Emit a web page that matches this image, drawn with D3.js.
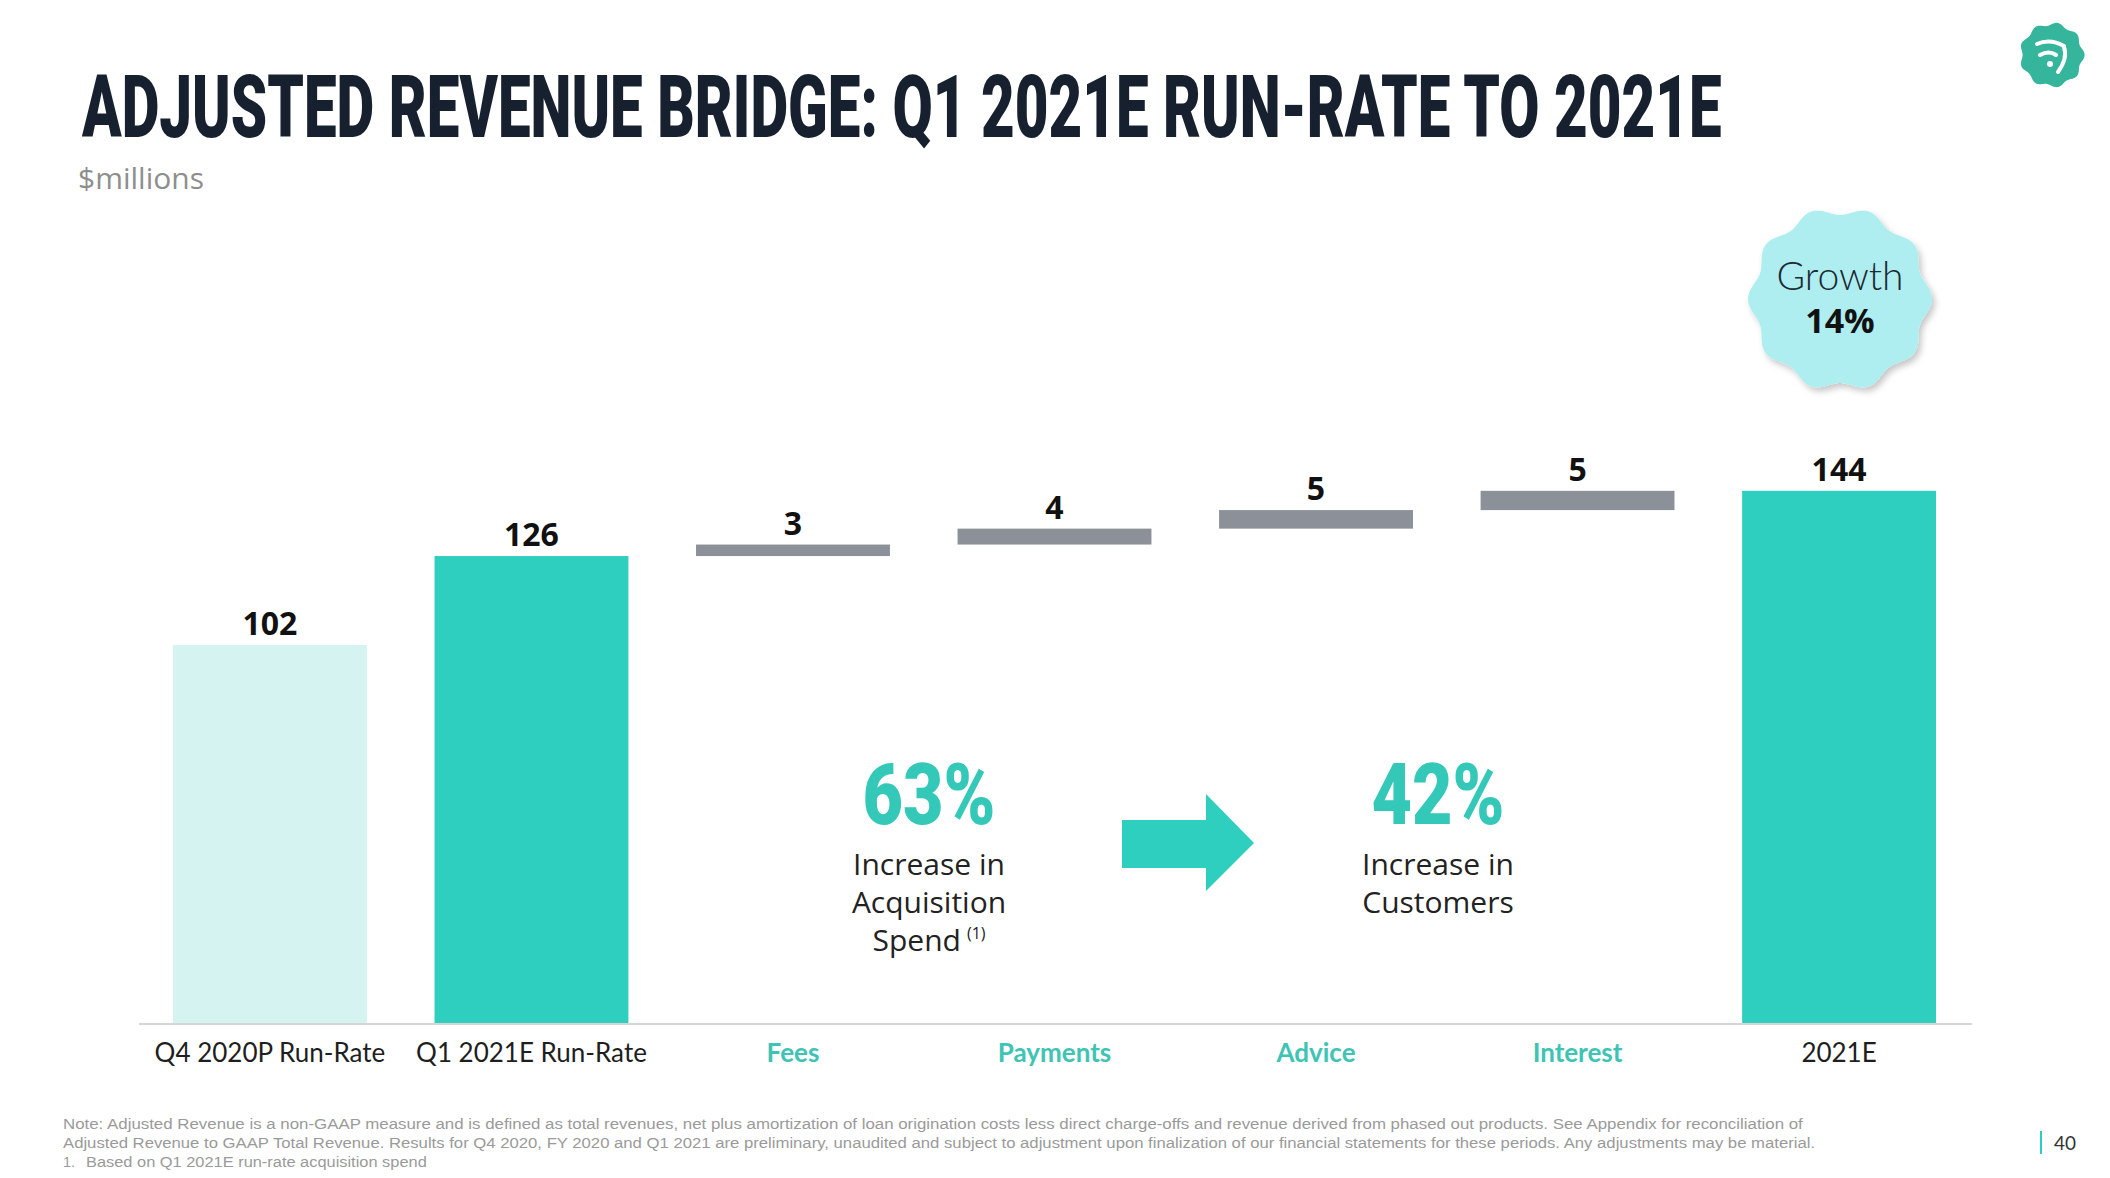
<!DOCTYPE html>
<html>
<head>
<meta charset="utf-8">
<script src="https://cdn.jsdelivr.net/npm/d3@7/dist/d3.min.js"></script>
<style>
  html, body { margin: 0; padding: 0; background: #ffffff; }
  svg { display: block; }
</style>
</head>
<body>
<svg id="chart" width="2110" height="1178"></svg>
<script>
// ---------------- data ----------------
const categories = ["Q4 2020P Run-Rate", "Q1 2021E Run-Rate", "Fees", "Payments", "Advice", "Interest", "2021E"];
const barTypes   = ["start", "total", "delta", "delta", "delta", "delta", "total"];
const values     = [102, 126, 3.1, 4.3, 5.0, 5.2, 143.6];
const valueLabels = ["102", "126", "3", "4", "5", "5", "144"];
const yDomain    = [0, 144];

const titleText = "ADJUSTED REVENUE BRIDGE: Q1 2021E RUN-RATE TO 2021E";
const subtitleText = "$millions";
const growthLabel = "Growth";
const growthValue = "14%";
const calloutPcts = ["63%", "42%"];
const calloutLines = [["Increase in", "Acquisition", "Spend"], ["Increase in", "Customers"]];
const footnotes = [
  "Note: Adjusted Revenue is a non-GAAP measure and is defined as total revenues, net plus amortization of loan origination costs less direct charge-offs and revenue derived from phased out products. See Appendix for reconciliation of",
  "Adjusted Revenue to GAAP Total Revenue. Results for Q4 2020, FY 2020 and Q1 2021 are preliminary, unaudited and subject to adjustment upon finalization of our financial statements for these periods. Any adjustments may be material.",
  "Based on Q1 2021E run-rate acquisition spend"
];
const pageNumber = "40";

// ---------------- setup ----------------
const svg = d3.select("#chart");
const TEAL = "#2fcfbf", LIGHT = "#d4f3f1", GREY = "#8b9099";

const defs = svg.append("defs");
const f = defs.append("filter").attr("id", "shadow").attr("x", "-20%").attr("y", "-20%").attr("width", "150%").attr("height", "150%");
f.append("feDropShadow").attr("dx", 3).attr("dy", 4).attr("stdDeviation", 3).attr("flood-color", "#000").attr("flood-opacity", 0.22);

function fitX(sel, target) {
  const w = sel.node().getComputedTextLength();
  return target / w;
}

// ---------------- title ----------------
const title = svg.append("text")
  .attr("font-family", "Roboto, 'Liberation Sans', sans-serif")
  .attr("font-weight", 900)
  .attr("font-size", 88)
  .attr("fill", "#17202e")
  .text(titleText);
{
  const s = fitX(title, 1640);
  title.attr("transform", `translate(82,137) scale(${s},1)`);
}

svg.append("text")
  .attr("x", 78).attr("y", 189)
  .attr("font-family", "'Open Sans', Lato, sans-serif")
  .attr("font-size", 30)
  .attr("fill", "#8e8e8e")
  .text(subtitleText);

// ---------------- scales ----------------
const x = d3.scaleBand().domain(categories).range([173, 1936]).paddingInner(0.2586).paddingOuter(0);
const y = d3.scaleLinear().domain(yDomain).range([1023, 1023 - 144 * 3.706]);

// waterfall computation
let running = 0;
const bars = categories.map((c, i) => {
  let lo, hi;
  if (barTypes[i] === "delta") { lo = running; hi = running + values[i]; running = hi; }
  else { lo = 0; hi = values[i]; running = values[i]; }
  return { cat: c, lo, hi, type: barTypes[i], label: valueLabels[i], i };
});

const g = svg.append("g");
g.selectAll("rect.bar").data(bars).join("rect")
  .attr("class", "bar")
  .attr("x", d => x(d.cat))
  .attr("width", x.bandwidth())
  .attr("y", d => y(d.hi))
  .attr("height", d => y(d.lo) - y(d.hi))
  .attr("fill", d => d.type === "start" ? LIGHT : d.type === "total" ? TEAL : GREY);

g.selectAll("text.val").data(bars).join("text")
  .attr("class", "val")
  .attr("x", d => x(d.cat) + x.bandwidth() / 2)
  .attr("y", d => y(d.hi) - 10)
  .attr("text-anchor", "middle")
  .attr("font-family", "'Open Sans', 'Noto Sans', sans-serif")
  .attr("font-weight", 700)
  .attr("font-size", 32)
  .attr("fill", "#111")
  .text(d => d.label);

// axis
const axis = d3.axisBottom(x).tickSize(0).tickPadding(0);
const ax = svg.append("g").attr("transform", `translate(0,${1023})`).call(axis);
ax.select(".domain").remove();
svg.append("line").attr("x1", 139).attr("x2", 1972).attr("y1", 1024).attr("y2", 1024)
  .attr("stroke", "#d6d6d6").attr("stroke-width", 2);
ax.selectAll(".tick text")
  .attr("y", 39)
  .attr("dy", 0)
  .attr("font-family", "Lato, 'Open Sans', sans-serif")
  .attr("font-size", 26)
  .attr("font-weight", (d, i) => barTypes[i] === "delta" ? 700 : 400)
  .attr("fill", (d, i) => barTypes[i] === "delta" ? "#3ec4b4" : "#1e1e1e");

// ---------------- callouts ----------------
const calloutCx = [929, 1438];
calloutPcts.forEach((p, k) => {
  const t = svg.append("text")
    .attr("text-anchor", "middle")
    .attr("font-family", "Roboto, 'Liberation Sans', sans-serif")
    .attr("font-weight", 900)
    .attr("font-size", 86)
    .attr("fill", "#33c8b7")
    .text(p);
  const s = fitX(t, 133);
  t.attr("transform", `translate(${calloutCx[k]},824) scale(${s},1)`);

  calloutLines[k].forEach((line, j) => {
    const tt = svg.append("text")
      .attr("x", calloutCx[k]).attr("y", 875 + j * 38)
      .attr("text-anchor", "middle")
      .attr("font-family", "'Open Sans', Lato, sans-serif")
      .attr("font-size", 30)
      .attr("fill", "#222");
    tt.append("tspan").text(line);
    if (k === 0 && j === 2) {
      tt.append("tspan").attr("font-size", 16).attr("dy", -12).attr("dx", 6).text("(1)");
    }
  });
});

// arrow
const arrowPts = [[1122, 820], [1206, 820], [1206, 794], [1254, 843], [1206, 891], [1206, 868], [1122, 868]];
svg.append("path").attr("d", d3.line()(arrowPts) + "Z").attr("fill", TEAL);

// ---------------- growth badge ----------------
function wavyCircle(cx, cy, R, amp, n) {
  const pts = d3.range(0, 360, 2).map(a => {
    const t = a * Math.PI / 180;
    const r = R + amp * Math.cos(n * t);
    return [cx + r * Math.cos(t), cy + r * Math.sin(t)];
  });
  return d3.line().curve(d3.curveCardinalClosed)(pts);
}
svg.append("path").attr("d", wavyCircle(1840, 299, 88, 4, 10))
  .attr("fill", "#aeeef0").attr("filter", "url(#shadow)");
svg.append("text").attr("x", 1840).attr("y", 290).attr("text-anchor", "middle")
  .attr("font-family", "Lato, 'Open Sans', sans-serif").attr("font-weight", 300)
  .attr("font-size", 39).attr("fill", "#1b2a33").text(growthLabel);
svg.append("text").attr("x", 1840).attr("y", 333).attr("text-anchor", "middle")
  .attr("font-family", "'Open Sans', 'Noto Sans', sans-serif").attr("font-weight", 700)
  .attr("font-size", 34).attr("fill", "#111").text(growthValue);

// ---------------- logo ----------------
svg.append("path").attr("d", wavyCircle(2052, 55, 31, 1.6, 9)).attr("fill", "#35b69c");
const lg = svg.append("g").attr("fill", "none").attr("stroke", "#fff").attr("stroke-linecap", "round");
lg.append("path").attr("d", "M2037,44 Q2050,38 2064,46").attr("stroke-width", 4);
lg.append("path").attr("d", "M2040,55 Q2049,50 2056,55").attr("stroke-width", 4);
lg.append("path").attr("d", "M2064,47 Q2068,58 2058,72").attr("stroke-width", 4);
lg.append("circle").attr("cx", 2050).attr("cy", 64).attr("r", 3).attr("fill", "#fff").attr("stroke", "none");

// ---------------- footnotes ----------------
const fnFont = "'Liberation Sans', Arial, sans-serif";
const fnTargets = [1740, 1754, 341];
const fnX = [63, 63, 86];
const fnY = [1129, 1148, 1167];
footnotes.forEach((t, i) => {
  const el = svg.append("text")
    .attr("font-family", fnFont).attr("font-size", 14.5).attr("fill", "#9a9a9a").text(t);
  const s = fitX(el, fnTargets[i]);
  el.attr("transform", `translate(${fnX[i]},${fnY[i]}) scale(${s},1)`);
});
svg.append("text").attr("x", 63).attr("y", 1167).attr("font-family", fnFont)
  .attr("font-size", 14.5).attr("fill", "#9a9a9a").text("1.");

// page number
svg.append("line").attr("x1", 2041).attr("x2", 2041).attr("y1", 1131).attr("y2", 1154)
  .attr("stroke", "#2fcfbf").attr("stroke-width", 2);
svg.append("text").attr("x", 2054).attr("y", 1150)
  .attr("font-family", "Lato, 'Open Sans', sans-serif").attr("font-size", 19)
  .attr("fill", "#333").text(pageNumber);
</script>
</body>
</html>
